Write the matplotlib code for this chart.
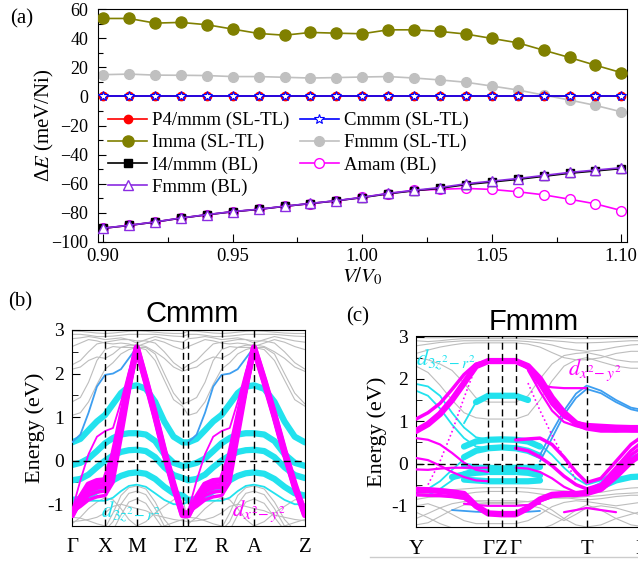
import numpy as np
import matplotlib
matplotlib.use('Agg')
import matplotlib.pyplot as plt
from matplotlib.lines import Line2D

plt.rcParams['font.family'] = ['Liberation Serif', 'DejaVu Serif']
plt.rcParams['mathtext.fontset'] = 'stix'
nan = np.nan

W, H = 638, 564

## (a) energy difference vs volume
v_ratio = [0.90, 0.91, 0.92, 0.93, 0.94, 0.95, 0.96, 0.97, 0.98, 0.99, 1.00,
           1.01, 1.02, 1.03, 1.04, 1.05, 1.06, 1.07, 1.08, 1.09, 1.10]
e_p4mmm = [0.0] * 21
e_cmmm = [0.0] * 21
e_imma = [53.5, 53.5, 50.3, 50.8, 49.2, 46.2, 43.2, 42.0, 43.9, 43.4, 43.0,
          45.7, 45.7, 44.6, 42.8, 39.8, 36.8, 31.7, 26.7, 21.4, 16.3]
e_fmmm_sl = [14.9, 15.3, 14.6, 14.5, 14.3, 13.6, 13.6, 13.1, 12.6, 12.9, 13.3,
             13.6, 12.6, 11.3, 9.7, 7.1, 4.4, 0.9, -2.5, -6.2, -10.6]
e_i4mmm = [-90.6, -88.6, -86.3, -83.6, -81.3, -79.2, -77.6, -75.5, -73.6, -71.7, -69.5,
           -66.9, -64.8, -63.1, -60.6, -58.8, -57.0, -54.9, -52.8, -51.2, -49.6]
e_fmmm_bl = [-90.5, -88.5, -86.2, -83.5, -81.2, -79.1, -77.5, -75.4, -73.5, -71.6, -69.3,
             -66.6, -64.5, -62.6, -60.0, -58.2, -56.4, -54.3, -52.2, -50.6, -49.0]
e_amam = [-90.6, -88.6, -86.3, -83.6, -81.3, -79.2, -77.6, -75.5, -73.6, -71.7, -69.4,
          -66.7, -64.6, -63.8, -63.2, -63.9, -65.5, -67.6, -70.6, -73.8, -78.4]

## (b) Cmmm bands, path G-X-M-G | Z-R-A-Z (second half repeats the first)
kb_1 = [0.0, 0.036, 0.071, 0.107, 0.142, 0.176, 0.21, 0.244, 0.278, 0.317, 0.357, 0.396, 0.436, 0.475]
kb_2 = [0.499, 0.535, 0.571, 0.606, 0.642, 0.677, 0.711, 0.746, 0.781, 0.825, 0.869, 0.912, 0.956, 1.0]
kb_lines = [0.142, 0.278, 0.475, 0.499, 0.642, 0.781]
kb_ticks = [0.0, 0.142, 0.278, 0.49, 0.642, 0.781, 1.0]
kb_labels = ['Γ', 'X', 'M', 'ΓZ', 'R', 'A', 'Z']

b_gray = [
    [2.98, 2.97, 2.95, 2.93, 2.92, 2.93, 2.95, 2.97, 2.98, 2.97, 2.95, 2.93, 2.92, 2.92],
    [2.9, 2.9, 2.88, 2.85, 2.85, 2.86, 2.88, 2.9, 2.9, 2.9, 2.9, 2.88, 2.86, 2.85],
    [2.8, 2.82, 2.85, 2.82, 2.78, 2.8, 2.82, 2.78, 2.7, 2.78, 2.85, 2.8, 2.75, 2.72],
    [2.62, 2.7, 2.78, 2.75, 2.7, 2.68, 2.7, 2.68, 2.62, 2.7, 2.78, 2.72, 2.62, 2.55],
    [2.2, 2.3, 2.5, 2.68, 2.72, 2.75, 2.78, 2.78, 2.75, 2.75, 2.7, 2.5, 2.25, 2.1],
    [2.1, 2.15, 2.3, 2.38, 2.35, 2.45, 2.6, 2.65, 2.66, 2.62, 2.5, 2.35, 2.15, 2.05],
    [1.35, 1.45, 1.8, 2.3, 2.55, 2.62, 2.6, 2.6, 2.6, 2.6, 2.45, 2.0, 1.55, 1.3],
    [1.04, 1.1, 1.35, 1.75, 2.1, 2.25, 2.45, 2.55, 2.6, 2.55, 2.3, 1.85, 1.4, 1.25],
    [-1.6, -1.6, -1.6, -1.6, -1.55, -1.2, -0.8, -0.62, -0.58, -0.65, -0.95, -1.35, -1.6, -1.6],
    [-1.6, -1.6, -1.6, -1.6, -1.6, -1.4, -1.0, -0.75, -0.7, -0.78, -1.1, -1.5, -1.6, -1.6],
    [-1.6, -1.6, -1.6, -1.6, -1.6, -1.6, -1.25, -0.95, -0.88, -0.98, -1.3, -1.6, -1.6, -1.6],
    [-1.45, -1.3, -1.1, -0.95, -0.85, -0.9, -1.1, -1.35, -1.5, -1.4, -1.2, -1.05, -0.9, -0.85],
    [-1.4, -1.38, -1.35, -1.3, -1.2, -1.05, -1.0, -1.05, -1.1, -1.15, -1.25, -1.3, -1.35, -1.38],
    [-1.3, -1.32, -1.38, -1.45, -1.5, -1.55, -1.6, -1.6, -1.6, -1.6, -1.55, -1.5, -1.42, -1.35],
]
b_cyan_thick = [
    [0.42, 0.5, 0.7, 0.9, 1.05, 1.3, 1.55, 1.7, 1.73, 1.65, 1.35, 0.9, 0.55, 0.42],
    [-0.1, -0.05, 0.05, 0.22, 0.4, 0.52, 0.6, 0.63, 0.63, 0.6, 0.45, 0.15, -0.05, -0.12],
    [-0.45, -0.42, -0.32, -0.15, 0.0, 0.12, 0.2, 0.24, 0.25, 0.22, 0.08, -0.15, -0.33, -0.4],
    [-0.9, -0.88, -0.82, -0.7, -0.58, -0.45, -0.35, -0.29, -0.27, -0.3, -0.42, -0.6, -0.75, -0.8],
]
b_cyan_thin = [
    [-0.95, -0.93, -0.92, -0.92, -0.92, -0.85, -0.7, -0.58, -0.55, -0.6, -0.75, -0.9, -1.0, -1.0],
]
b_blue_thin = [
    [0.42, 0.6, 1.1, 1.7, 1.97, 2.0, 2.1, 2.35, 2.6, nan, nan, nan, nan, nan],
]
b_mag_thick = [
    [-1.25, -0.85, -0.55, -0.47, -0.45, 0.1, 0.95, 1.8, 2.6, 1.85, 1.05, 0.22, -0.55, -1.25],
    [-1.22, -0.92, -0.68, -0.6, -0.58, -0.1, 0.85, 1.75, 2.58, 1.82, 1.02, 0.18, -0.6, -1.22],
]
b_mag_mid = [
    [-1.2, -1.0, -0.8, -0.72, -0.7, -0.3, 0.7, 1.68, 2.55, 1.8, 0.98, 0.14, -0.65, -1.2],
    [-1.18, -1.05, -0.9, -0.83, -0.8, -0.5, 0.5, 1.55, 2.52, 1.78, 0.95, 0.1, -0.68, -1.18],
]
b_mag_thin = [
    [-1.15, -0.45, 0.15, 0.55, 0.68, 0.75, 1.35, 2.05, 2.6, nan, nan, nan, nan, nan],
]
b_mag_dot = [
    [nan, nan, nan, nan, -0.9, -0.3, 0.5, 1.5, 2.55, nan, nan, nan, nan, nan],
]

## (c) Fmmm bands, path Y-G-Z-G-T-G
kc = [0.0, 0.12, 0.24, 0.36, 0.48, 0.60, 0.723, 0.857, 0.997, 1.12,
      1.24, 1.36, 1.48, 1.60, 1.707, 1.85, 2.0, 2.15, 2.30, 2.45]
kc_lines = [0.723, 0.857, 0.997, 1.707, 2.25]
kc_ticks = [0.0, 0.723, 0.857, 0.997, 1.707, 2.25]
kc_labels = ['Y', 'Γ', 'Z', 'Γ', 'T', 'Γ']

c_gray = [
    [2.98, 2.97, 2.97, 2.98, 2.99, 2.99, 2.99, 2.99, 2.99, 2.99, 2.98, 2.97, 2.96, 2.95, 2.95, 2.95, 2.96, 2.97, 2.97, 2.97],
    [2.9, 2.88, 2.9, 2.93, 2.95, 2.95, 2.95, 2.95, 2.95, 2.94, 2.92, 2.9, 2.88, 2.85, 2.85, 2.86, 2.88, 2.9, 2.9, 2.9],
    [2.78, 2.82, 2.86, 2.88, 2.9, 2.9, 2.9, 2.9, 2.9, 2.88, 2.85, 2.8, 2.72, 2.68, 2.65, 2.68, 2.75, 2.8, 2.82, 2.82],
    [2.6, 2.68, 2.75, 2.8, 2.84, 2.85, 2.85, 2.85, 2.85, 2.82, 2.75, 2.62, 2.5, 2.45, 2.45, 2.5, 2.6, 2.65, 2.65, 2.65],
    [2.5, 2.45, 2.35, 2.2, 1.9, 1.55, 1.45, 1.45, 1.45, 1.6, 2.0, 2.35, 2.55, 2.6, 2.62, 2.55, 2.45, 2.4, 2.4, 2.4],
    [2.3, 2.15, 1.85, 1.5, 1.2, 1.08, 1.05, 1.05, 1.05, 1.15, 1.5, 1.95, 2.3, 2.45, 2.5, 2.4, 2.3, 2.25, 2.25, 2.25],
    [-0.55, -0.58, -0.6, -0.62, -0.6, -0.58, -0.57, -0.57, -0.57, -0.58, -0.6, -0.62, -0.65, -0.68, -0.7, -0.68, -0.62, -0.58, -0.56, -0.55],
    [-0.85, -0.8, -0.78, -0.75, -0.72, -0.68, -0.66, -0.66, -0.66, -0.68, -0.72, -0.76, -0.8, -0.84, -0.86, -0.83, -0.78, -0.75, -0.75, -0.76],
    [-1.0, -0.95, -1.05, -1.2, -1.35, -1.42, -1.42, -1.42, -1.42, -1.35, -1.2, -1.02, -0.92, -0.88, -0.9, -0.95, -1.0, -0.95, -0.9, -0.88],
    [-1.3, -1.18, -1.05, -0.95, -0.9, -0.88, -0.88, -0.88, -0.88, -0.9, -0.95, -1.1, -1.3, -1.45, -1.5, -1.45, -1.3, -1.2, -1.1, -1.05],
    [-1.45, -1.4, -1.25, -1.1, -0.98, -0.95, -0.95, -0.95, -0.95, -0.98, -1.05, -1.2, -1.35, -1.2, -1.05, -1.0, -1.05, -1.15, -1.25, -1.3],
    [-1.15, -1.28, -1.42, -1.52, -1.6, -1.6, -1.6, -1.6, -1.6, -1.6, -1.55, -1.45, -1.3, -1.1, -0.98, -1.1, -1.3, -1.45, -1.5, -1.5],
    [-0.7, -0.72, -0.75, -0.8, -0.85, -0.9, -0.92, -0.92, -0.92, -0.9, -0.85, -0.82, -0.82, -0.8, -0.78, -0.76, -0.72, -0.7, -0.68, -0.68],
]
c_cyan_thick = [
    [nan, nan, nan, nan, nan, 1.45, 1.6, 1.6, 1.6, 1.5, nan, nan, nan, nan, nan, nan, nan, nan, nan, nan],
    [nan, nan, nan, nan, 0.4, 0.52, 0.56, 0.57, 0.56, 0.52, 0.4, nan, nan, nan, nan, nan, nan, nan, nan, nan],
    [nan, nan, nan, nan, 0.15, 0.3, 0.36, 0.38, 0.36, 0.3, 0.18, nan, nan, nan, nan, nan, nan, nan, nan, nan],
    [nan, nan, nan, nan, -0.05, -0.1, -0.1, -0.12, -0.1, -0.1, -0.08, nan, nan, nan, nan, nan, nan, nan, nan, nan],
    [nan, nan, nan, -0.32, -0.26, -0.22, -0.2, -0.2, -0.2, -0.22, -0.28, nan, nan, nan, nan, nan, nan, nan, nan, nan],
    [nan, nan, nan, nan, -0.38, -0.4, -0.42, -0.42, -0.42, -0.42, -0.4, nan, nan, nan, nan, nan, nan, nan, nan, nan],
    [nan, nan, nan, nan, nan, nan, nan, nan, nan, nan, nan, nan, nan, nan, nan, -0.55, -0.4, -0.32, -0.3, -0.3],
]
c_cyan_thin = [
    [1.88, 1.82, 1.6, 1.2, 0.85, 0.62, 0.56, nan, nan, nan, nan, nan, nan, nan, nan, nan, nan, nan, nan, nan],
    [1.72, 1.6, 1.3, 0.92, 0.6, 0.4, 0.36, nan, nan, nan, nan, nan, nan, nan, nan, nan, nan, nan, nan, nan],
    [-0.7, -0.6, -0.42, -0.15, 0.1, 0.3, 0.36, nan, nan, nan, nan, nan, nan, nan, nan, nan, nan, nan, nan, nan],
    [nan, -0.75, -0.6, -0.4, -0.2, -0.12, -0.1, nan, nan, nan, nan, nan, nan, nan, nan, nan, nan, nan, nan, nan],
    [nan, nan, nan, nan, 0.95, 1.45, 1.6, nan, nan, nan, nan, nan, nan, nan, nan, nan, nan, nan, nan, nan],
    [nan, nan, nan, nan, nan, nan, nan, nan, 0.56, 0.52, 0.45, 0.2, -0.1, -0.35, -0.5, -0.4, -0.15, 0.05, 0.18, 0.21],
    [nan, nan, nan, nan, nan, nan, nan, nan, nan, nan, nan, nan, nan, nan, -0.62, -0.45, -0.1, 0.15, 0.3, 0.35],
]
c_blue_thin = [
    [nan, nan, nan, nan, nan, nan, nan, nan, nan, nan, 0.2, 0.75, 1.25, 1.65, 1.84, 1.72, 1.5, 1.32, 1.25, 1.22],
    [nan, nan, nan, nan, nan, nan, nan, nan, nan, nan, 0.05, 0.6, 1.15, 1.55, 1.76, 1.66, 1.45, 1.28, 1.2, 1.18],
    [nan, nan, nan, -1.1, -1.12, -1.14, -1.15, -1.15, -1.15, -1.14, -1.12, nan, nan, nan, nan, nan, nan, nan, nan, nan],
]
c_mag_thick = [
    [0.77, 0.93, 1.17, 1.5, 1.9, 2.3, 2.42, 2.42, 2.42, 2.3, 2.0, 1.55, 1.2, 0.95, 0.85, 0.8, 0.8, 0.82, 0.85, 0.85],
    [-0.62, -0.63, -0.65, -0.68, -0.72, -1.0, -1.18, -1.2, -1.2, -1.05, -0.85, -0.74, -0.72, -0.72, -0.7, -0.6, -0.3, 0.05, 0.3, 0.4],
]
c_mag_mid = [
    [1.05, 1.2, 1.42, 1.75, 2.1, 2.35, 2.42, 2.42, 2.42, 2.25, 1.85, 1.4, 1.1, 0.97, 0.92, 0.9, 0.88, 0.87, 0.87, 0.87],
    [-0.74, -0.75, -0.76, -0.78, -0.82, -1.02, -1.16, -1.16, -1.16, -1.02, -0.88, -0.78, -0.75, -0.7, -0.66, -0.55, -0.2, 0.2, 0.45, 0.55],
    [nan, nan, nan, nan, nan, nan, nan, nan, 0.36, 0.3, 0.15, -0.05, -0.3, -0.5, -0.6, -0.5, -0.1, 0.3, 0.58, 0.7],
    [nan, nan, nan, nan, nan, nan, nan, nan, 0.56, 0.58, 0.6, 0.45, 0.15, -0.2, -0.45, -0.35, 0.05, 0.45, 0.7, 0.78],
]
c_mag_thin = [
    [nan, nan, nan, nan, nan, nan, nan, nan, -0.1, -0.12, -0.2, -0.35, -0.55, -0.68, -0.72, -0.62, -0.3, 0.1, 0.35, 0.45],
    [0.6, 0.56, 0.45, 0.25, 0.02, -0.15, -0.2, nan, nan, nan, nan, nan, nan, nan, nan, nan, nan, nan, nan, nan],
    [0.13, 0.08, -0.05, -0.2, -0.32, -0.4, -0.42, nan, nan, nan, nan, nan, nan, nan, nan, nan, nan, nan, nan, nan],
    [-0.14, -0.15, -0.12, -0.1, -0.1, -0.1, -0.1, nan, nan, nan, nan, nan, nan, nan, nan, nan, nan, nan, nan, nan],
    [nan, nan, nan, nan, nan, nan, nan, nan, nan, 2.2, 1.7, 1.25, 0.98, 0.88, 0.82, 0.78, 0.76, 0.75, 0.75, 0.75],
    [nan, nan, nan, nan, -0.95, -0.98, -1.0, -1.0, -1.0, -0.98, -0.95, nan, nan, nan, nan, nan, nan, nan, nan, nan],
    [nan, nan, nan, nan, nan, nan, nan, nan, nan, nan, nan, nan, -1.15, -1.1, -1.05, -1.1, -1.15, nan, nan, nan],
    [nan, nan, nan, nan, nan, nan, nan, nan, nan, nan, 1.85, 1.8, 1.78, 1.78, 1.78, nan, nan, nan, nan, nan],
]
c_mag_dot = [
    [nan, -0.5, 0.05, 0.75, 1.55, 2.3, nan, nan, nan, nan, nan, nan, nan, nan, nan, nan, nan, nan, nan, nan],
    [nan, nan, nan, nan, nan, nan, nan, nan, nan, 1.9, 1.25, 0.67, 0.13, -0.4, nan, nan, nan, nan, nan, nan],
]

GRAY = '#bdbdbd'
CYAN = '#22e2ee'
MAG = '#ff00ff'
BLUE = '#3d9ef0'


def fx(px):
    return px / W


def fy(py):
    return 1 - py / H


fig = plt.figure(figsize=(W / 100, H / 100), dpi=100)

# ---------------- panel (a)
ax = fig.add_axes([fx(98), fy(242), fx(626.5) - fx(98), fy(9) - fy(242)])
ax.plot(v_ratio, e_p4mmm, '-o', color='red', ms=6, lw=1.2, label='P4/mmm (SL-TL)', zorder=3)
ax.plot(v_ratio, e_imma, '-o', color='#808000', ms=8, lw=1.2, label='Imma (SL-TL)', zorder=3)
ax.plot(v_ratio, e_i4mmm, '-s', color='black', ms=6, lw=1.2, label='I4/mmm (BL)', zorder=3)
ax.plot(v_ratio, e_fmmm_bl, '-^', color='#8a2be2', mfc='white', mec='#8a2be2', ms=7, lw=1.2,
        label='Fmmm (BL)', zorder=5)
ax.plot(v_ratio, e_cmmm, '-*', color='blue', mfc='white', mec='blue', ms=7, mew=0.8, lw=1.2,
        label='Cmmm (SL-TL)', zorder=4)
ax.plot(v_ratio, e_fmmm_sl, '-o', color='#c0c0c0', ms=7, lw=1.2, label='Fmmm (SL-TL)', zorder=2)
ax.plot(v_ratio, e_amam, '-o', color='#ff00ff', mfc='white', mec='#ff00ff', ms=7, lw=1.2,
        label='Amam (BL)', zorder=2)
ax.set_xlim(0.898, 1.102)
ax.set_ylim(-100, 60)
ax.set_xticks([0.90, 0.95, 1.00, 1.05, 1.10])
ax.set_xticklabels(['0.90', '0.95', '1.00', '1.05', '1.10'])
ax.set_xticks(np.arange(0.925, 1.1, 0.05), minor=True)
ax.set_yticks(range(-100, 61, 20))
ax.set_yticklabels(['\u2212100', '\u221280', '\u221260', '\u221240', '\u221220', '0', '20', '40', '60'])
ax.set_yticks(range(-90, 60, 20), minor=True)
ax.tick_params(which='both', direction='in', labelsize=13.5)
ax.tick_params(axis='y', labelsize=13)
ax.tick_params(which='major', length=6, width=0.8)
ax.tick_params(which='minor', length=3.5, width=0.8)
ax.tick_params(axis='y', pad=7)
ax.tick_params(axis='x', pad=4)
ax.set_ylabel('Δ$E$ (meV/Ni)', fontsize=15)
ax.yaxis.set_label_coords(-0.08, 0.5)
ax.set_xlabel('$V/V_0$', fontsize=15)
ax.xaxis.set_label_coords(0.5, -0.1)
ax.legend(ncol=2, frameon=False, loc='upper left', bbox_to_anchor=(0.019, 0.558),
          fontsize=13.5, handlelength=2.1, handletextpad=0.25, columnspacing=0.55,
          labelspacing=0.26, borderpad=0, borderaxespad=0, numpoints=1)
fig.text(fx(22), fy(19), '(a)', fontsize=15, ha='center', va='center')


def band_panel(rect, kgrid, groups, lines, ticks, labels, xlim):
    bx = fig.add_axes(rect)
    for bands, color, lw, ls, z in groups:
        for b in bands:
            bx.plot(kgrid, np.array(b, dtype=float), color=color, lw=lw, ls=ls,
                    solid_capstyle='round', zorder=z)
    for t in lines:
        bx.axvline(t, color='black', ls=(0, (5, 3)), lw=1.0, zorder=6)
    bx.axhline(0, color='black', ls=(0, (5, 3)), lw=1.0, zorder=6)
    bx.set_xlim(*xlim)
    bx.set_ylim(-1.5, 3)
    bx.set_xticks(ticks)
    bx.set_xticklabels(labels, fontsize=15)
    bx.set_yticks([-1, 0, 1, 2, 3])
    bx.set_yticklabels(['-1', '0', '1', '2', '3'])
    bx.set_yticks([-1.5, -0.5, 0.5, 1.5, 2.5], minor=True)
    bx.tick_params(axis='x', length=0, pad=9)
    bx.tick_params(axis='y', which='both', direction='in', labelsize=14, pad=6)
    bx.tick_params(axis='y', which='major', length=6)
    bx.tick_params(axis='y', which='minor', length=4)
    bx.set_ylabel('Energy (eV)', fontsize=16)
    bx.yaxis.set_label_coords(-0.115, 0.5)
    return bx


# ---------------- panel (b)
kb = kb_1 + kb_2


def twice(bands):
    return [b + b for b in bands]


groups_b = [
    (twice(b_gray), GRAY, 0.8, '-', 1),
    (twice(b_cyan_thin), CYAN, 1.3, '-', 2),
    (twice(b_cyan_thick), CYAN, 4.5, '-', 2),
    (twice(b_blue_thin), BLUE, 1.3, '-', 3),
    (twice(b_mag_dot), MAG, 1.3, ':', 3),
    (twice(b_mag_thin), MAG, 1.3, '-', 4),
    (twice(b_mag_mid), MAG, 2.5, '-', 4),
    (twice(b_mag_thick), MAG, 4.5, '-', 4),
]
bx = band_panel([fx(72), fy(526), fx(305) - fx(72), fy(330) - fy(526)], kb, groups_b,
                kb_lines, kb_ticks, kb_labels, (0.0, 1.0))
bx.text(0.253, -1.17, '$d_{3z^2\\!-r^2}$', color=CYAN, fontsize=16, ha='center', va='center', zorder=8)
bx.text(0.80, -1.17, '$d_{x^2\\!-y^2}$', color=MAG, fontsize=16, ha='center', va='center', zorder=8)
fig.text(fx(192), fy(314), 'Cmmm', fontsize=21, family='Liberation Sans', ha='center', va='center')
fig.text(fx(20), fy(302), '(b)', fontsize=15, ha='center', va='center')

# ---------------- panel (c)
groups_c = [
    (c_gray, GRAY, 0.8, '-', 1),
    (c_cyan_thin, CYAN, 1.3, '-', 2),
    (c_cyan_thick, CYAN, 4.5, '-', 2),
    (c_blue_thin, BLUE, 1.3, '-', 3),
    (c_mag_dot, MAG, 1.2, ':', 3),
    (c_mag_thin, MAG, 1.6, '-', 4),
    (c_mag_mid, MAG, 2.5, '-', 4),
    (c_mag_thick, MAG, 4.5, '-', 4),
]
cx = band_panel([fx(416), fy(527), fx(661) - fx(416), fy(336.5) - fy(527)], kc, groups_c,
                kc_lines, kc_ticks, kc_labels, (0.0, 2.45))
cx.spines['right'].set_visible(False)
cx.yaxis.set_label_coords(-0.118, 0.5)
cx.text(0.30, 2.45, '$d_{3z^2\\!-r^2}$', color=CYAN, fontsize=16, ha='center', va='center', zorder=8)
cx.text(1.79, 2.2, '$d_{x^2\\!-y^2}$', color=MAG, fontsize=16, ha='center', va='center', zorder=8)
fig.text(fx(534), fy(322), 'Fmmm', fontsize=21, family='Liberation Sans', ha='center', va='center')
fig.text(fx(358), fy(317), '(c)', fontsize=15, ha='center', va='center')
fig.add_artist(Line2D([fx(370), fx(638)], [fy(557), fy(557)], color='#cccccc', lw=1.0))

fig.savefig('out.png', dpi=100)
